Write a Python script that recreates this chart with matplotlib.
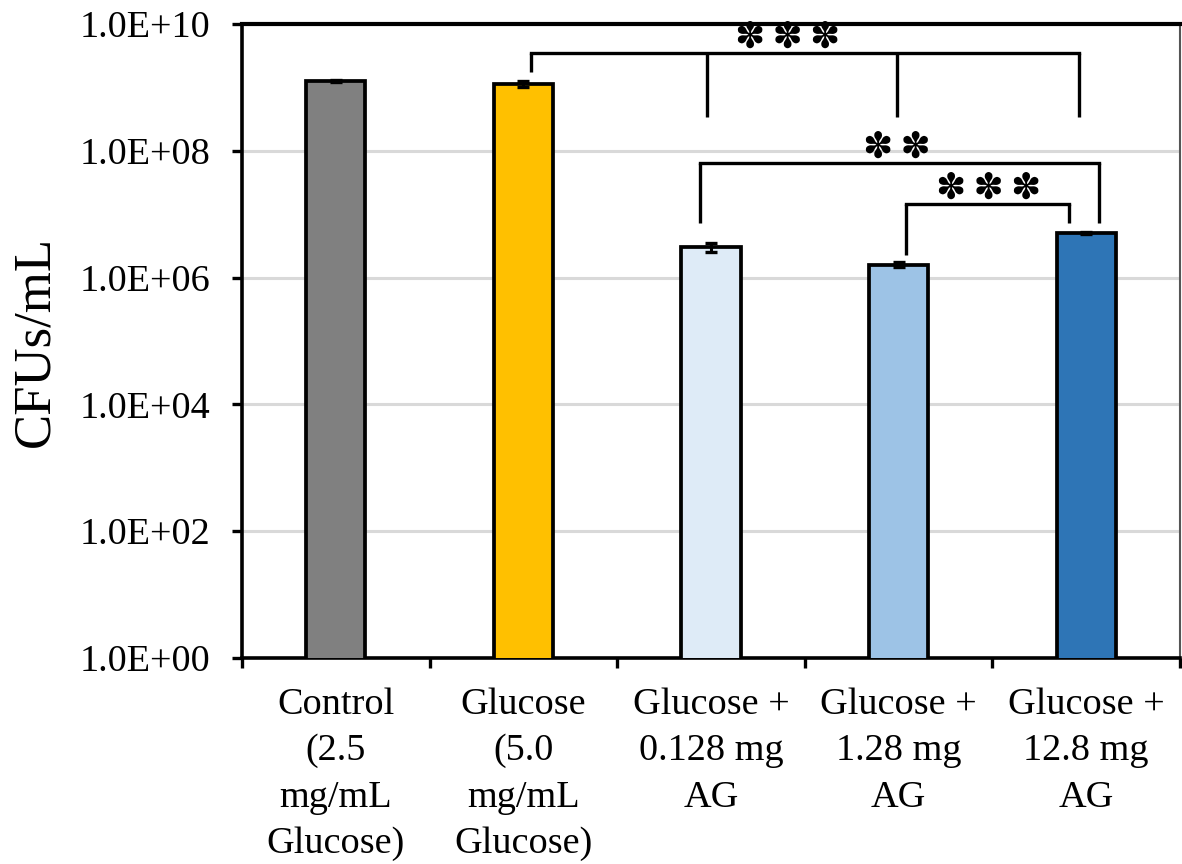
import matplotlib
matplotlib.use("Agg")
import matplotlib.pyplot as plt
import numpy as np

plt.rcParams["font.family"] = ["Liberation Serif", "DejaVu Serif"]

categories = [
    "Control\n(2.5\nmg/mL\nGlucose)",
    "Glucose\n(5.0\nmg/mL\nGlucose)",
    "Glucose +\n0.128 mg\nAG",
    "Glucose +\n1.28 mg\nAG",
    "Glucose +\n12.8 mg\nAG",
]
cfu_mean = [1.26e9, 1.12e9, 3.0e6, 1.6e6, 5.1e6]
cfu_err = [0.05e9, 0.12e9, 0.5e6, 0.15e6, 0.15e6]
bar_colors = ["#808080", "#FFC000", "#DEEBF7", "#9DC3E6", "#2E75B6"]

# significance brackets: (top log10, [(x, bottom log10), ...], label, label x, label log10)
star = "\u273d"
brackets = [
    (9.54, [(1.04, 9.24), (1.98, 8.53), (2.99, 8.53), (3.96, 8.53)], 3, 2.41, 9.79),
    (7.81, [(1.94, 6.86), (4.07, 6.86)], 2, 2.99, 8.05),
    (7.16, [(3.04, 6.36), (3.91, 6.86)], 3, 3.48, 7.40),
]

fig = plt.figure(figsize=(11.82, 8.64), dpi=100)
ax = fig.add_axes([0.2047, 0.2384, 0.7936, 0.7338])

x = np.arange(len(categories))
ax.bar(x, cfu_mean, width=0.315, color=bar_colors, edgecolor="black",
       linewidth=2.7, zorder=3)
ax.errorbar(x, cfu_mean, yerr=cfu_err, fmt="none", ecolor="black",
            elinewidth=2.2, capsize=4, capthick=2.4, zorder=4)

ax.set_yscale("log")
ax.set_ylim(1, 1e10)
ax.set_xlim(-0.5, len(categories) - 0.5)

yt = [10.0 ** k for k in range(0, 11, 2)]
ax.set_yticks(yt)
ax.set_yticklabels([f"1.0E+{k:02d}" for k in range(0, 11, 2)])
ax.yaxis.set_minor_locator(matplotlib.ticker.NullLocator())
ax.tick_params(axis="y", which="major", direction="out", length=7,
               width=2.4, pad=16, labelsize=27.5)

ax.set_xticks(np.arange(-0.5, len(categories), 1.0))
ax.set_xticklabels([])
ax.set_xticks(x, minor=True)
ax.set_xticklabels(categories, minor=True, linespacing=1.45)
ax.tick_params(axis="x", which="major", direction="out", length=7, width=2.4)
ax.tick_params(axis="x", which="minor", length=0, pad=21, labelsize=27.5)

ax.yaxis.grid(True, color="#d9d9d9", linewidth=2.2)
ax.set_axisbelow(True)

for side in ["left", "bottom"]:
    ax.spines[side].set_linewidth(2.6)
    ax.spines[side].set_color("black")
ax.spines["top"].set_linewidth(3)
ax.spines["top"].set_color("black")
ax.spines["right"].set_linewidth(1.5)
ax.spines["right"].set_color("#555555")

ax.set_ylabel("CFUs/mL", fontsize=38, labelpad=14)

for top, legs, n_stars, lx, ly in brackets:
    xs = [leg[0] for leg in legs]
    ax.plot([min(xs), max(xs)], [10 ** top, 10 ** top], color="black",
            linewidth=2.4, solid_capstyle="projecting", zorder=5)
    for lxx, bottom in legs:
        ax.plot([lxx, lxx], [10 ** top, 10 ** bottom], color="black",
                linewidth=2.4, solid_capstyle="butt", zorder=5)
    ax.text(lx, 10 ** ly, "\u2009".join([star] * n_stars), ha="center",
            va="center", fontsize=26, family=["DejaVu Sans"], zorder=6)

fig.savefig("out.png", dpi=100)
